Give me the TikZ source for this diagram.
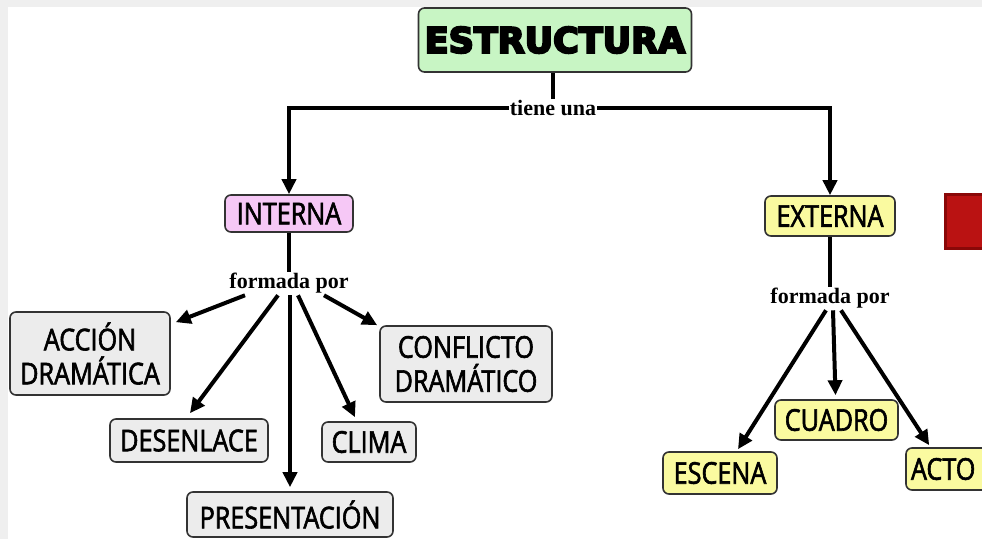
\documentclass[tikz,border=0pt]{standalone}
\usepackage{fontspec}
\usetikzlibrary{arrows.meta,calc}
\setmainfont{Liberation Serif}
\newfontfamily\boxfont{Open Sans}[FakeStretch=0.84, FakeBold=2]
\newfontfamily\titlefont{DejaVu Sans}[FakeBold=6]
\definecolor{bgframe}{HTML}{EFEFEF}
\definecolor{tgreen}{HTML}{C8F5C4}
\definecolor{ipink}{HTML}{F6C8F6}
\definecolor{eyellow}{HTML}{FAFAA0}
\definecolor{gfill}{HTML}{ECECEC}
\definecolor{bord}{HTML}{333333}
\definecolor{redfill}{HTML}{BA1212}
\definecolor{redbord}{HTML}{8A0808}
\tikzset{
  boxbase/.style={draw=bord, line width=1.6pt, rounded corners=6pt, inner sep=0pt, align=center,
    font=\boxfont\fontsize{30}{34}\selectfont},
  gbox/.style={boxbase, fill=gfill},
  pbox/.style={boxbase, fill=ipink},
  ybox/.style={boxbase, fill=eyellow},
  lbl/.style={fill=white, inner sep=1pt, font=\bfseries\fontsize{22}{24}\selectfont},
  ln/.style={line width=4pt, draw=black},
  arr/.style={ln, -{Triangle[length=15pt,width=14pt]}},
}
\begin{document}
\begin{tikzpicture}[x=1pt,y=-1pt]
\useasboundingbox (0,0) rectangle (982,539);
\clip (0,0) rectangle (982,539);
\fill[bgframe] (0,0) rectangle (982,539);
\fill[white] (8,7) rectangle (982,539);

% title
\node[boxbase, fill=tgreen, minimum width=273pt, minimum height=64pt,
      font=\titlefont\bfseries\fontsize{35}{37}\selectfont] (title) at (555,40) {ESTRUCTURA};
\node[lbl] (tu) at (553,108) {tiene una};

% level 1
\node[pbox, minimum width=128pt, minimum height=37pt] (int) at (289,213.5) {INTERNA};
\node[ybox, minimum width=130pt, minimum height=40pt] (ext) at (830,216) {EXTERNA};

% labels
\node[lbl] (fp1) at (289,283) {formada por};
\node[lbl] (fp2) at (830,298) {formada por};

% interna children
\node[gbox, minimum width=160pt, minimum height=83pt] (acc) at (90,353.5) {ACCIÓN\\DRAMÁTICA};
\node[gbox, minimum width=158pt, minimum height=43pt] (des) at (189,440.5) {DESENLACE};
\node[gbox, minimum width=206pt, minimum height=45pt] (pres) at (290,514.5) {PRESENTACIÓN};
\node[gbox, minimum width=94pt, minimum height=40pt] (cli) at (369,442) {CLIMA};
\node[gbox, minimum width=172pt, minimum height=76pt] (conf) at (466,364) {CONFLICTO\\DRAMÁTICO};

% externa children
\node[ybox, minimum width=123pt, minimum height=40pt] (cua) at (836.5,420) {CUADRO};
\node[ybox, minimum width=114pt, minimum height=42pt] (esc) at (720,473) {ESCENA};
\node[ybox, minimum width=112pt, minimum height=42pt, text width=102pt, align=left] (acto) at (962,469) {ACTO};

% red block
\draw[draw=redbord, line width=3pt, fill=redfill] (945,194) rectangle (995,248);

% connectors
\draw[ln] (tu.north) -- (tu.north |- title.south);
\draw[arr] (tu.west) -| (int.north);
\draw[arr] (tu.east) -| (ext.north);
\draw[ln] (int.south) -- (fp1.north);
\draw[ln] (ext.south) -- (fp2.north);

\draw[arr] ($(fp1.south)+(-44,1)$) -- ($(acc.north east)+(5,11)$);
\draw[arr] ($(fp1.south)+(-11,1)$) -- ($(des.north)+(1,-5)$);
\draw[arr] ($(fp1.south)+(1,1)$) -- ($(pres.north)+(0,-4)$);
\draw[arr] ($(fp1.south)+(9,1)$) -- ($(cli.north)+(-14,-4)$);
\draw[arr] ($(fp1.south)+(35,1)$) -- ($(conf.north west)+(-2,0)$);

\draw[arr] ($(fp2.south)+(-4,1)$) -- ($(esc.north)+(18,-2)$);
\draw[arr] ($(fp2.south)+(3,1)$) -- ($(cua.north)+(-1,-4)$);
\draw[arr] ($(fp2.south)+(11,1)$) -- ($(acto.north west)+(24,-2)$);
\end{tikzpicture}
\end{document}
